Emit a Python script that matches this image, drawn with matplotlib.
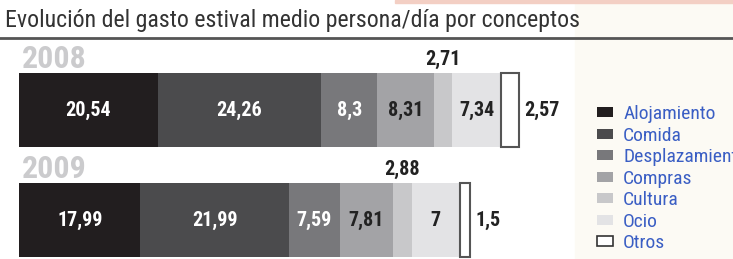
import matplotlib.pyplot as plt
from matplotlib.patches import Patch, Rectangle
import numpy as np

# ── data ──────────────────────────────────────────────────────────────────────
CATEGORIES = ["Alojamiento", "Comida", "Desplazamiento", "Compras",
              "Cultura", "Ocio", "Otros"]
YEARS = ["2008", "2009"]
GASTO_2008 = [20.54, 24.26, 8.30, 8.31, 2.71, 7.34, 2.57]
GASTO_2009 = [17.99, 21.99, 7.59, 7.81, 2.88, 7.00, 1.50]
LABELS_2008 = ["20,54", "24,26", "8,3", "8,31", "2,71", "7,34", "2,57"]
LABELS_2009 = ["17,99", "21,99", "7,59", "7,81", "2,88", "7", "1,5"]

# ── style ─────────────────────────────────────────────────────────────────────
COLORS = ["#221e1f", "#4b4b4d", "#78787b", "#a3a3a6", "#c8c8ca", "#e3e3e5", "white"]
TXT_COL = ["white", "white", "white", "#222222", None, "#222222", None]
NARROW = ["Roboto Condensed", "Archivo Narrow", "DejaVu Sans"]
plt.rcParams["font.family"] = NARROW

W, H = 733, 259
PX = 6.75          # pixels per euro
X0 = 19            # bar start, px
fig = plt.figure(figsize=(W / 100, H / 100), dpi=100)
fig.patch.set_facecolor("white")
# cream panel on the right and the faint red strip at the top
fig.add_artist(Rectangle((575 / W, 0), 1, 1, transform=fig.transFigure,
                         color="#fcfaf4", zorder=0))
fig.add_artist(Rectangle((395 / W, 1 - 3 / H), 1, 3 / H, transform=fig.transFigure,
                         color="#f3cfc4", zorder=0))

ax = fig.add_axes([0, 0, 1, 1])
ax.set_xlim(-X0 / PX, (W - X0) / PX)
ax.set_ylim(H, 0)
ax.axis("off")
ax.patch.set_alpha(0)

# title + rule
fig.text(5 / W, 1 - 20 / H, "Evolución del gasto estival medio persona/día por conceptos",
         fontsize=17.2, color="#333333", va="center", ha="left")
ax.axhline(38, color="#555555", lw=2)

Y_CENTER = [110, 220]
BAR_H = 74

for yc, year, vals, labs in zip(Y_CENTER, YEARS,
                                [GASTO_2008, GASTO_2009],
                                [LABELS_2008, LABELS_2009]):
    left = np.concatenate([[0], np.cumsum(vals)[:-1]])
    for i, (v, l0, lab) in enumerate(zip(vals, left, labs)):
        last = i == len(vals) - 1
        ax.barh(yc, v, left=l0, height=BAR_H, color=COLORS[i],
                edgecolor="#555555" if last else "none",
                linewidth=1.5 if last else 0)
        if TXT_COL[i]:
            ax.text(l0 + v / 2, yc, lab, ha="center", va="center",
                    color=TXT_COL[i], fontsize=14.5, fontweight="bold")
        elif last:
            ax.text(l0 + v + 6 / PX, yc, lab, ha="left", va="center",
                    color="#222222", fontsize=14.5, fontweight="bold")
        else:
            ax.text(l0 + v / 2, yc - BAR_H / 2 - 4, lab, ha="center", va="bottom",
                    color="#222222", fontsize=14.5, fontweight="bold")
    ax.text(3 / PX, yc - BAR_H / 2 + 1, year, ha="left", va="bottom",
            color="#cbcbcd", fontsize=23, fontweight="bold")

# legend
handles = [Patch(facecolor=c, edgecolor="#333333" if c == "white" else "none",
                 linewidth=1.2) for c in COLORS]
leg = fig.legend(handles, CATEGORIES, loc="upper left",
                 bbox_to_anchor=(597 / W, 1 - 105 / H), frameon=False,
                 fontsize=14, labelcolor="#3a5ec4", handlelength=0.8,
                 handleheight=0.42, handletextpad=0.55, labelspacing=0.18,
                 borderaxespad=0, borderpad=0)

fig.savefig("out.png", dpi=100)
